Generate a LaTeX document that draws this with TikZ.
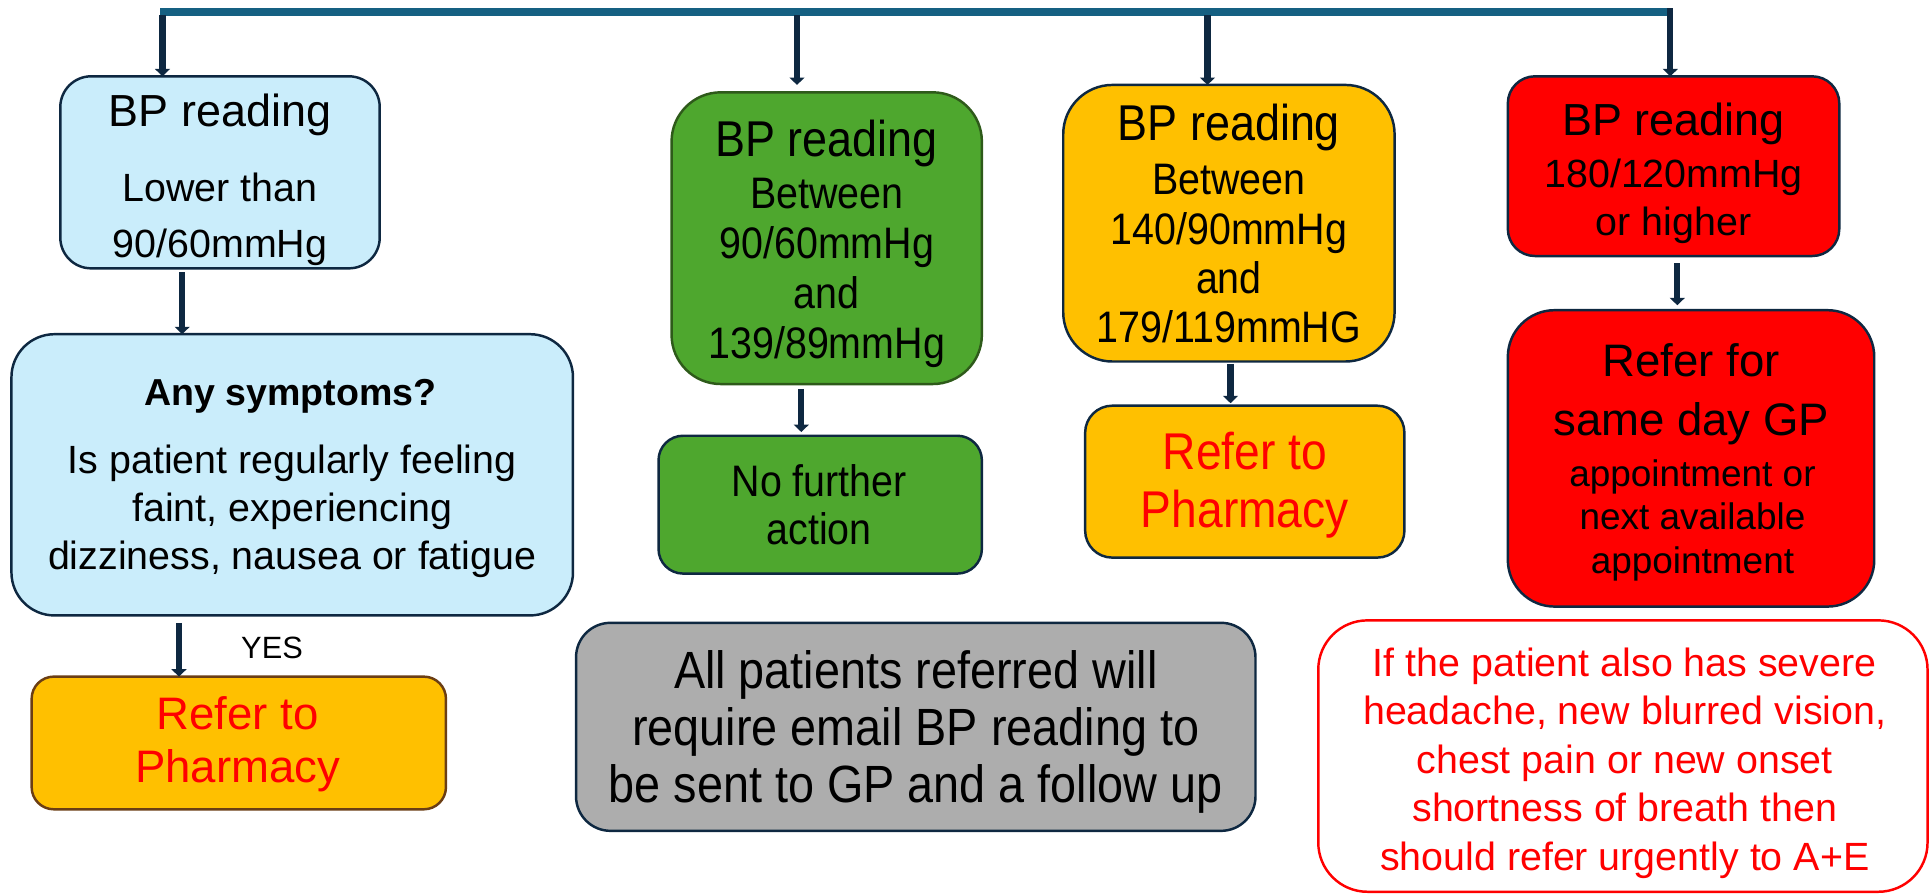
\documentclass[tikz,border=0pt]{standalone}
\usepackage{fontspec}
\setmainfont{Liberation Sans}
\usepackage{graphicx}
\usetikzlibrary{arrows.meta}
\definecolor{navyc}{HTML}{0E2841}
\definecolor{barc}{HTML}{156082}
\definecolor{lblue}{HTML}{CAEDFB}
\definecolor{gfill}{HTML}{4EA72E}
\definecolor{gborder}{HTML}{2E5A1A}
\definecolor{ofill}{HTML}{FFC000}
\definecolor{brownc}{HTML}{6B3E14}
\definecolor{rfill}{HTML}{FF0000}
\definecolor{grayc}{HTML}{ADADAD}
\definecolor{redtxt}{HTML}{FF0000}
\newcommand\tallt[1]{\scalebox{1}[1.12]{#1}}
\newcommand\fs[1]{\fontsize{#1}{#1}\selectfont}
\tikzset{
  boxst/.style={draw=navyc, line width=2pt, inner sep=0pt, outer sep=0pt},
  txt/.style={inner sep=0pt, anchor=base, text=black},
  arr/.style={draw=navyc, line width=5pt, -{Triangle[width=12pt,length=6pt]}},
}
\begin{document}
\begin{tikzpicture}[x=1pt,y=-1pt]
\useasboundingbox (0,0) rectangle (1568,726);
% top bar
\coordinate (barL) at (130,9.5);
\coordinate (barR) at (1358,9.5);
\draw[barc, line width=6.5pt] (barL) -- (barR);
\coordinate (t1) at (132,12.5);
\coordinate (t2) at (647.5,12.5);
\coordinate (t3) at (981,12.5);
\coordinate (t4) at (1357,6.5);

% boxes
\node[boxst, fill=lblue, rounded corners=25pt, minimum width=259.5pt, minimum height=156pt] (A1) at (178.75,140) {};
\node[boxst, fill=lblue, rounded corners=35pt, minimum width=456.2pt, minimum height=228.5pt] (A2) at (237.4,385.75) {};
\node[boxst, draw=brownc, fill=ofill, rounded corners=18pt, minimum width=336.6pt, minimum height=107.8pt] (A3) at (194,603.6) {};
\node[boxst, draw=gborder, fill=gfill, rounded corners=40pt, minimum width=252.1pt, minimum height=237pt] (B1) at (671.65,193.5) {};
\node[boxst, fill=gfill, rounded corners=20pt, minimum width=262.7pt, minimum height=112pt] (B2) at (666.35,410) {};
\node[boxst, fill=ofill, rounded corners=40pt, minimum width=269.2pt, minimum height=224.7pt] (C1) at (998.4,181.35) {};
\node[boxst, fill=ofill, rounded corners=22pt, minimum width=259.4pt, minimum height=123.4pt] (C2) at (1011.3,391.3) {};
\node[boxst, fill=rfill, rounded corners=22pt, minimum width=269.3pt, minimum height=146pt] (D1) at (1359.65,135) {};
\node[boxst, fill=rfill, rounded corners=38pt, minimum width=297.7pt, minimum height=240.8pt] (D2) at (1373.85,372.4) {};
\node[boxst, fill=grayc, rounded corners=28pt, minimum width=552pt, minimum height=169pt] (G) at (744,590.5) {};
\node[boxst, draw=rfill, fill=white, rounded corners=40pt, minimum width=495pt, minimum height=220.5pt] (R) at (1318.5,614.25) {};

% arrows
\draw[arr] (t1) -- (t1 |- A1.north);
\draw[arr, shorten >=6pt] (t2) -- (t2 |- B1.north);
\draw[arr] (t3) -- (t3 |- C1.north);
\draw[arr] (t4) -- (t4 |- D1.north);
\coordinate (a12) at (148,0);
\draw[arr, shorten <=3pt] (a12 |- A1.south) -- (a12 |- A2.north);
\coordinate (a23) at (145.4,0);
\draw[arr, shorten <=6pt] (a23 |- A2.south) -- (a23 |- A3.north);
\coordinate (b12) at (651,0);
\draw[arr, shorten <=4pt, shorten >=3pt] (b12 |- B1.south) -- (b12 |- B2.north);
\coordinate (c12) at (999.7,0);
\draw[arr, shorten <=2pt, shorten >=2pt] (c12 |- C1.south) -- (c12 |- C2.north);
\coordinate (d12) at (1362.7,0);
\draw[arr, shorten <=6pt, shorten >=4pt] (d12 |- D1.south) -- (d12 |- D2.north);

% texts A column
\node[txt, font=\fs{36.5}] (A1a) at (178.75,102.5) {BP reading};
\node[txt, font=\fs{32}] (A1b) at (178.75,164) {Lower than};
\node[txt, font=\fs{32}] (A1c) at (178.75,209.5) {90/60mmHg};
\node[txt, font=\bfseries\fs{30.5}] (A2a) at (236,329.3) {Any symptoms?};
\node[txt, font=\fs{32}] (A2b) at (237.4,384.3) {Is patient regularly feeling};
\node[txt, font=\fs{32}] (A2c) at (237.4,423.3) {faint, experiencing};
\node[txt, font=\fs{32}] (A2d) at (237.4,462.4) {dizziness, nausea or fatigue};
\node[txt, font=\fs{25}] (yes) at (221,534.8) {YES};
\node[txt, font=\fs{37}, text=redtxt] (A3a) at (193,592.5) {Refer to};
\node[txt, font=\fs{37}, text=redtxt] (A3b) at (193,636) {Pharmacy};

% B column
\node[txt, font=\fs{36.5}] (B1a) at (671.65,127) {\tallt{BP reading}};
\node[txt, font=\fs{32}] (B1b) at (671.65,169.5) {\tallt{Between}};
\node[txt, font=\fs{32}] (B1c) at (671.65,210) {\tallt{90/60mmHg}};
\node[txt, font=\fs{32}] (B1d) at (671.65,251) {\tallt{and}};
\node[txt, font=\fs{32}] (B1e) at (671.65,291.5) {\tallt{139/89mmHg}};
\node[txt, font=\fs{32}] (B2a) at (665.5,403) {\tallt{No further}};
\node[txt, font=\fs{32}] (B2b) at (665.5,442.4) {\tallt{action}};

% C column
\node[txt, font=\fs{36.5}] (C1a) at (998.4,114) {\tallt{BP reading}};
\node[txt, font=\fs{32}] (C1b) at (998.4,158) {\tallt{Between}};
\node[txt, font=\fs{32}] (C1c) at (998.4,198.3) {\tallt{140/90mmHg}};
\node[txt, font=\fs{32}] (C1d) at (998.4,238.5) {\tallt{and}};
\node[txt, font=\fs{32}] (C1e) at (998.4,278.5) {\tallt{179/119mmHG}};
\node[txt, font=\fs{37.5}, text=redtxt] (C2a) at (1011.3,381.2) {\tallt{Refer to}};
\node[txt, font=\fs{37.5}, text=redtxt] (C2b) at (1011.3,428.8) {\tallt{Pharmacy}};

% D column
\node[txt, font=\fs{36.5}] (D1a) at (1359.65,109.7) {BP reading};
\node[txt, font=\fs{32}] (D1b) at (1359.65,152) {180/120mmHg};
\node[txt, font=\fs{32}] (D1c) at (1359.65,191.5) {or higher};
\node[txt, font=\fs{37}] (D2a) at (1374,306.2) {Refer for};
\node[txt, font=\fs{37}] (D2b) at (1374,354.1) {same day GP};
\node[txt, font=\fs{30}] (D2c) at (1375,395) {appointment or};
\node[txt, font=\fs{30}] (D2d) at (1375,430) {next available};
\node[txt, font=\fs{30}] (D2e) at (1375,466) {appointment};

% gray box
\node[txt, font=\fs{38}] (Ga) at (744,559) {\tallt{All patients referred will}};
\node[txt, font=\fs{38}] (Gb) at (744,606) {\tallt{require email BP reading to}};
\node[txt, font=\fs{38}] (Gc) at (744,652) {\tallt{be sent to GP and a follow up}};

% red outlined note
\node[txt, font=\fs{32}, text=redtxt] (Ra) at (1320,549.5) {If the patient also has severe};
\node[txt, font=\fs{32}, text=redtxt] (Rb) at (1320,588.5) {headache, new blurred vision,};
\node[txt, font=\fs{32}, text=redtxt] (Rc) at (1320,628.5) {chest pain or new onset};
\node[txt, font=\fs{32}, text=redtxt] (Rd) at (1320,667.5) {shortness of breath then};
\node[txt, font=\fs{32}, text=redtxt] (Re) at (1320,707.5) {should refer urgently to A+E};
\end{tikzpicture}
\end{document}
